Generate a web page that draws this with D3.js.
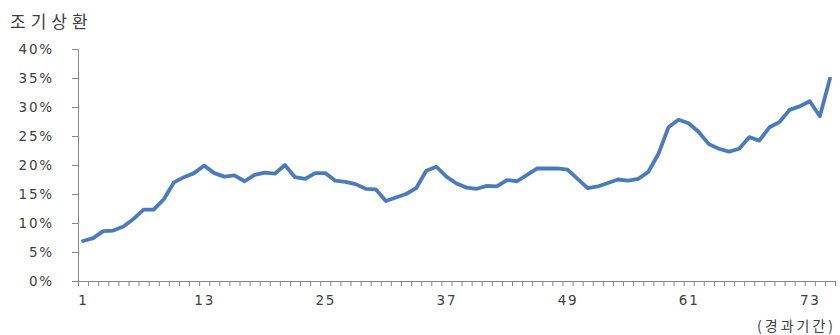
<!DOCTYPE html>
<html>
<head>
<meta charset="utf-8">
<script src="https://d3js.org/d3.v7.min.js"></script>
<style>
    body { margin: 0; background: #fff; }
    .axis path, .axis line { stroke: #868686; }
    .axis text { font-family: "DejaVu Sans", sans-serif; font-size: 13.5px; fill: #404040; letter-spacing: 1.8px; }
    .title { font-family: "Noto Sans CJK KR", sans-serif; font-size: 17px; fill: #404040; letter-spacing: 5px; }
</style>
</head>
<body>
<svg width="840" height="335"></svg>
<script>
// elapsed period (categories)
const periods = d3.range(1, 76);
// early redemption rate, %
const rates = [
    6.9, 7.4, 8.6, 8.7, 9.4, 10.7, 12.3, 12.3, 14.1, 17.0,
    17.9, 18.6, 19.9, 18.6, 18.0, 18.2, 17.2, 18.3, 18.7, 18.5,
    20.0, 17.9, 17.6, 18.6, 18.6, 17.3, 17.1, 16.7, 15.9, 15.8,
    13.8, 14.4, 15.0, 16.0, 19.0, 19.7, 18.0, 16.8, 16.1, 15.9,
    16.4, 16.3, 17.4, 17.2, 18.3, 19.4, 19.4, 19.4, 19.2, 17.6,
    16.0, 16.3, 16.9, 17.5, 17.3, 17.6, 18.8, 21.9, 26.5, 27.8,
    27.2, 25.7, 23.6, 22.8, 22.3, 22.8, 24.8, 24.2, 26.5, 27.4,
    29.5, 30.1, 31.0, 28.4, 34.9
];
const xLabels = [1, 13, 25, 37, 49, 61, 73];
const yTicks = [0, 5, 10, 15, 20, 25, 30, 35, 40];

const svg = d3.select('svg');

const x = d3.scaleLinear()
    .domain([0.5, periods.length + 0.5])
    .range([78, 835]);

const y = d3.scaleLinear()
    .domain([0, 40])
    .range([281, 49]);

// x axis: small ticks between categories
svg.append('g').attr('class', 'axis')
    .attr('transform', 'translate(0,281)')
    .call(d3.axisBottom(x)
        .tickValues(d3.range(0.5, periods.length + 1, 1))
        .tickSize(5).tickSizeOuter(0)
        .tickFormat(''));

svg.append('g').attr('class', 'axis')
    .attr('transform', 'translate(0,281)')
    .call(d3.axisBottom(x)
        .tickValues(xLabels)
        .tickSize(0)
        .tickPadding(14))
    .call(g => g.select('.domain').remove());

// y axis
svg.append('g').attr('class', 'axis')
    .attr('transform', 'translate(78,0)')
    .call(d3.axisLeft(y)
        .tickValues(yTicks)
        .tickSize(6).tickSizeOuter(0)
        .tickPadding(18)
        .tickFormat(d => d + '%'));

const line = d3.line()
    .x((d, i) => x(periods[i]))
    .y(d => y(d));

svg.append('path')
    .datum(rates)
    .attr('fill', 'none')
    .attr('stroke', '#4a7cbc')
    .attr('stroke-width', 3.8)
    .attr('stroke-linejoin', 'round')
    .attr('stroke-linecap', 'round')
    .attr('d', line);

svg.append('text')
    .attr('class', 'title')
    .attr('x', 10)
    .attr('y', 28)
    .text('조기상환');

svg.append('text')
    .attr('class', 'title')
    .attr('x', 836)
    .attr('y', 331)
    .attr('text-anchor', 'end')
    .style('font-size', '14px')
    .style('letter-spacing', '3px')
    .text('(경과기간)');
</script>
</body>
</html>
